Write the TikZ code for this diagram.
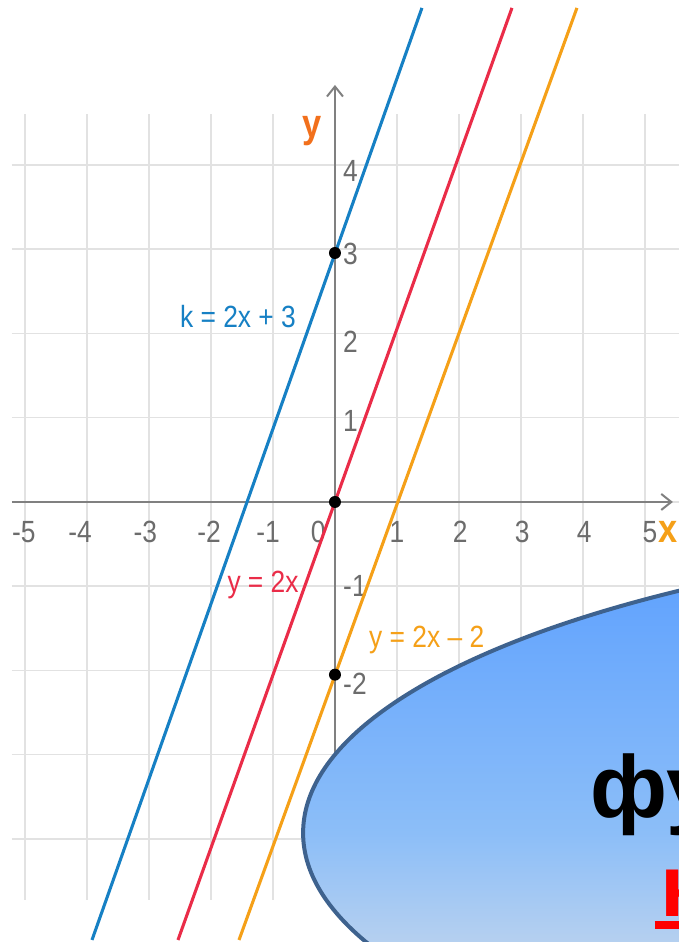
\documentclass[tikz,border=0pt]{standalone}
\usepackage{fontspec}
\setmainfont{Liberation Sans}
\newfontfamily\narrowsans[FakeStretch=0.86]{Liberation Sans}
\usetikzlibrary{arrows.meta}

\definecolor{gridgray}{RGB}{226,226,226}
\definecolor{axisgray}{RGB}{128,128,128}
\definecolor{numgray}{RGB}{108,108,108}
\definecolor{kblue}{RGB}{22,128,196}
\definecolor{yred}{RGB}{234,44,72}
\definecolor{yorange}{RGB}{245,160,24}
\definecolor{ylabelorange}{RGB}{242,112,28}
\definecolor{ellborder}{RGB}{62,98,142}
\definecolor{elltop}{RGB}{88,157,255}
\definecolor{ellmid}{RGB}{140,190,248}
\definecolor{ellbot}{RGB}{255,240,225}

\begin{document}
\begin{tikzpicture}[
    x=46.5pt, y=63.19pt,
    gridline/.style={draw=gridgray, line width=1.1pt},
    axis/.style={draw=axisgray, line width=1.5pt, -{Straight Barb[length=7.5pt, width=12pt]}},
    graph/.style={draw=#1, line width=2.3pt},
    graph/.default={black},
    ticklbl/.style={font=\narrowsans\fontsize{23}{23}\selectfont, text=numgray, inner sep=0pt, anchor=base},
    axislbl/.style={font=\narrowsans\bfseries\fontsize{30}{30}\selectfont, text=#1, inner sep=0pt},
    linelbl/.style={font=\narrowsans\fontsize{23}{23}\selectfont, text=#1, inner sep=0pt, anchor=base},
    dot/.style={circle, fill=black, inner sep=0pt, minimum size=9pt},
    blob/.style={draw=ellborder, line width=3pt, top color=elltop, bottom color=ellbot, middle color=ellmid},
    bigword/.style={font=\bfseries\fontsize{66}{66}\selectfont, text=#1, inner sep=0pt, anchor=base west}
]
\fill[white] (-5.403,-5.223) rectangle (5.548,5.958);
\useasboundingbox (-5.403,-5.223) rectangle (5.548,5.958);
\clip (-5.403,-5.223) rectangle (5.548,5.958);

% === CUADRICULA ===
\foreach \i in {-5,...,5}
  \draw[gridline] (\i,-4.724) -- (\i,4.605);
\foreach \j in {-4,...,4}
  \draw[gridline] (-5.21,\j) -- (5.6,\j);

% === EJES ===
\draw[axis] (-5.21,0) -- (5.45,0);
\draw[axis] (0,-4.72) -- (0,4.95);

\foreach \p/\lbl in {-5.02/-5, -4.11/-4, -3.06/-3, -2.03/-2, -1.08/-1, -0.27/0, 1.0/1, 2.02/2, 3.02/3, 4.02/4, 5.08/5}
  \node[ticklbl] at (\p,-0.487) {\lbl};
\foreach \b/\lbl in {3.798/4, 2.813/3, 1.769/2, 0.831/1, -1.128/-1, -2.291/-2}
  \node[ticklbl, anchor=base west] at (0.129,\b) {\lbl};

\node[axislbl=ylabelorange] (ylbl) at (-0.371,4.4) {y};
\node[axislbl=yorange, anchor=base] (xlbl) at (5.37,-0.487) {x};

% === RECTAS ===
\draw[graph=kblue] (-3.919,-5.199) -- (1.403,5.864);
\draw[graph=yred] (-2.532,-5.199) -- (2.855,5.864);
\draw[graph=yorange] (-1.548,-5.199) -- (3.903,5.864);

\node[linelbl=kblue] (kline) at (-1.565,2.065) {k = 2x + 3};
\node[linelbl=yred] (redline) at (-1.16,-1.08) {y = 2x};
\node[linelbl=yorange] (orline) at (1.48,-1.733) {y = 2x – 2};

\node[dot] (p3) at (0,2.955) {};
\node[dot] (p0) at (0,0) {};
\node[dot] (pm2) at (0,-2.05) {};

% === ELIPSE ===
\path[blob] (14.806,-3.929) ellipse [x radius=15.32, y radius=3.608];
\node[bigword=black] (fword) at (4.113,-3.74) {фу};
\node[bigword=red] (kword) at (5.242,-4.926) {к};
\draw[red, line width=6pt] ([xshift=-4pt, yshift=-6pt]kword.base west) -- ++(1,0);

\end{tikzpicture}
\end{document}
